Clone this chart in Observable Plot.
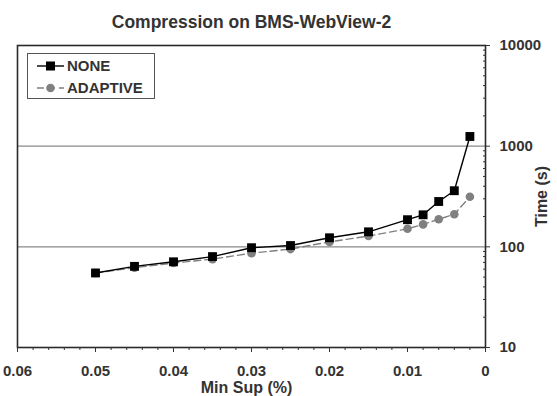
<!DOCTYPE html>
<html>
<head>
<meta charset="utf-8">
<script src="https://cdn.jsdelivr.net/npm/d3@7"></script>
<script src="https://cdn.jsdelivr.net/npm/@observablehq/plot@0.6"></script>
<style>
  html, body { margin: 0; padding: 0; background: #fff; }
  #wrap { position: relative; width: 557px; height: 396px; font-family: "Liberation Sans", Arial, sans-serif; }
  #legend { position: absolute; left: 27px; top: 53px; width: 128px; height: 46px; box-sizing: border-box;
            border: 1px solid #555; background: #fff; }
  .lrow { position: absolute; left: 0; height: 20px; width: 126px; }
  .lrow svg { position: absolute; left: 8px; top: 0; }
  .lrow span { position: absolute; left: 39px; top: 1px; font-weight: bold; font-size: 15px; color: #333; line-height: 18px; }
</style>
</head>
<body>
<div id="wrap"></div>
<script>
// ---- data ----
const minSup = [0.05, 0.045, 0.04, 0.035, 0.03, 0.025, 0.02, 0.015, 0.01, 0.008, 0.006, 0.004, 0.002];
const noneTime = [55, 64, 71, 80, 98, 103, 123, 141, 186, 208, 282, 361, 1248];
const adaptiveTime = [55, 62, 69, 75.5, 86.5, 95, 112, 128, 151, 167, 188, 211, 314];
const seriesNames = ["NONE", "ADAPTIVE"];
const xMajorTicks = [0.06, 0.05, 0.04, 0.03, 0.02, 0.01, 0];
const yMajorTicks = [10, 100, 1000, 10000];
const gridLines = [100, 1000];
const titleText = "Compression on BMS-WebView-2";
const xLabel = "Min Sup (%)";
const yLabel = "Time (s)";

const noneRows = minSup.map((x, i) => ({x, y: noneTime[i]}));
const adaptiveRows = minSup.map((x, i) => ({x, y: adaptiveTime[i]}));
const xMinorTicks = d3.range(0, 31).map(i => +(i * 0.002).toFixed(4)).filter(v => !xMajorTicks.some(m => Math.abs(m - v) < 1e-9));
const yMinorTicks = [];
for (const d of [10, 100, 1000]) for (let k = 2; k <= 9; k++) yMinorTicks.push(d * k);

const chart = Plot.plot({
  width: 557,
  height: 396,
  marginLeft: 17,
  marginRight: 72,
  marginTop: 45,
  marginBottom: 49,
  style: {fontFamily: "'Liberation Sans', Arial, sans-serif", fontWeight: "bold", color: "#333", background: "#fff"},
  x: {type: "linear", domain: [0.06, 0], label: null},
  y: {type: "log", domain: [10, 10000], label: null},
  marks: [
    Plot.ruleY(gridLines, {stroke: "#8a8a8a", strokeWidth: 1.2}),
    Plot.frame({stroke: "#2a2a2a", strokeWidth: 1.6}),
    Plot.axisX({ticks: xMinorTicks, tickSize: 3, tickFormat: () => "", label: null}),
    Plot.axisX({ticks: xMajorTicks, tickSize: 5, tickPadding: 13, fontSize: 15, tickFormat: d => String(d), label: null}),
    Plot.axisY({anchor: "right", ticks: yMinorTicks, tickSize: 3, insetRight: 3, tickFormat: () => "", label: null}),
    Plot.axisY({anchor: "right", ticks: yMajorTicks, tickSize: 4, tickPadding: 10, fontSize: 15, tickFormat: d => String(d), label: null}),
    Plot.text([yLabel], {frameAnchor: "right", textAnchor: "middle", lineAnchor: "middle", rotate: -90, dx: 56, fontSize: 16, fill: "#333"}),
    Plot.text([xLabel], {frameAnchor: "bottom", textAnchor: "middle", lineAnchor: "middle", dy: 40, dx: -5, fontSize: 16, fill: "#333"}),
    Plot.text([titleText], {frameAnchor: "top", textAnchor: "middle", lineAnchor: "middle", dy: -23.5, fontSize: 17.5, fill: "#333"}),
    Plot.line(adaptiveRows, {x: "x", y: "y", stroke: "#808080", strokeWidth: 1.4, strokeDasharray: "7,4"}),
    Plot.dot(adaptiveRows, {x: "x", y: "y", r: 4.3, fill: "#808080", stroke: "none"}),
    Plot.line(noneRows, {x: "x", y: "y", stroke: "#000", strokeWidth: 1.4}),
    Plot.dot(noneRows, {x: "x", y: "y", symbol: "square", r: 5, fill: "#000", stroke: "none"})
  ]
});
const wrap = document.getElementById("wrap");
wrap.appendChild(chart);

// legend
const legend = document.createElement("div");
legend.id = "legend";
const swatches = [
  `<svg width="30" height="20"><line x1="1" x2="28" y1="10" y2="10" stroke="#000" stroke-width="1.4"/><rect x="10" y="5.5" width="9" height="9" fill="#000"/></svg>`,
  `<svg width="30" height="20"><line x1="1" x2="28" y1="10" y2="10" stroke="#808080" stroke-width="1.4" stroke-dasharray="7,4"/><circle cx="14.5" cy="10" r="4.3" fill="#808080"/></svg>`
];
seriesNames.forEach((name, i) => {
  const row = document.createElement("div");
  row.className = "lrow";
  row.style.top = (i === 0 ? 2 : 24) + "px";
  row.innerHTML = swatches[i] + `<span>${name}</span>`;
  legend.appendChild(row);
});
wrap.appendChild(legend);
</script>
</body>
</html>
